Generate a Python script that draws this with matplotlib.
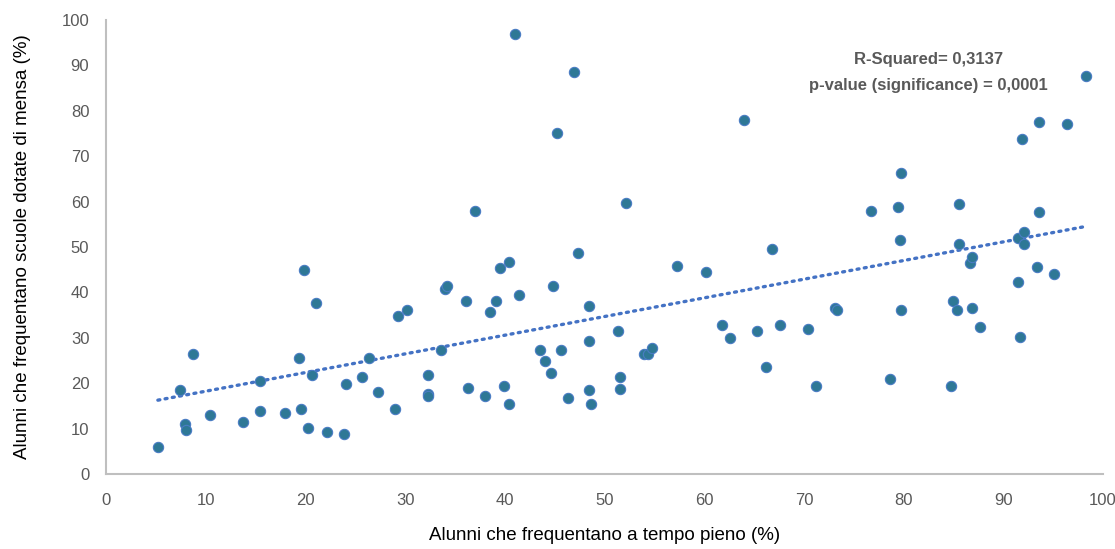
import matplotlib
matplotlib.use("Agg")
import matplotlib.pyplot as plt
import numpy as np

plt.rcParams['font.family'] = ['Liberation Sans', 'DejaVu Sans']

# % alunni a tempo pieno
tempo_pieno = [5.2, 7.4, 7.9, 8.0, 8.7, 10.4, 13.7, 15.4, 15.4, 18.0,
               19.4, 19.9, 19.6, 20.3, 20.7, 21.1, 22.2, 23.9, 24.1, 25.7,
               26.4, 27.3, 29.0, 29.3, 30.2, 32.3, 32.3, 32.3, 33.6, 34.0,
               34.2, 36.1, 36.3, 37.0, 38.0, 38.5, 39.1, 39.5, 39.9, 40.4,
               40.4, 41.0, 41.4, 43.5, 44.0, 44.6, 44.8, 45.2, 45.6, 46.3,
               46.9, 47.3, 48.4, 48.4, 48.4, 48.6, 51.4, 51.6, 51.6, 52.2,
               54.0, 54.4, 54.8, 57.3, 60.2, 61.8, 62.6, 64.0, 65.3, 66.2,
               66.8, 67.6, 70.4, 71.2, 73.1, 73.3, 76.7, 78.6, 79.4, 79.6,
               79.7, 79.7, 84.8, 85.0, 85.4, 85.6, 85.6, 86.7, 86.9, 86.9,
               87.7, 91.5, 91.5, 91.7, 91.9, 92.1, 92.1, 93.4, 93.6, 93.6,
               95.1, 96.4, 98.3]
# % alunni in scuole dotate di mensa
mensa = [6.0, 18.5, 11.1, 9.7, 26.4, 13.0, 11.5, 20.4, 13.9, 13.4,
         25.5, 45.0, 14.3, 10.2, 21.7, 37.6, 9.3, 8.8, 19.9, 21.4,
         25.5, 18.1, 14.3, 34.8, 36.1, 21.7, 17.6, 17.1, 27.4, 40.8,
         41.3, 38.0, 19.0, 58.0, 17.2, 35.7, 38.0, 45.4, 19.4, 46.8,
         15.4, 97.0, 39.4, 27.4, 25.0, 22.2, 41.3, 75.1, 27.4, 16.7,
         88.6, 48.7, 37.1, 29.2, 18.5, 15.4, 31.5, 21.4, 18.7, 59.8,
         26.4, 26.4, 27.8, 45.9, 44.5, 32.8, 30.0, 78.0, 31.5, 23.6,
         49.6, 32.8, 31.9, 19.4, 36.6, 36.1, 58.0, 20.9, 58.9, 51.5,
         66.4, 36.1, 19.4, 38.0, 36.1, 59.4, 50.6, 46.4, 47.9, 36.6,
         32.4, 52.0, 42.2, 30.1, 73.8, 53.4, 50.6, 45.5, 57.6, 77.5,
         44.1, 77.0, 87.7]

x_ticks = list(range(0, 101, 10))
y_ticks = list(range(0, 101, 10))

x = np.array(tempo_pieno)
y = np.array(mensa)

fig = plt.figure(figsize=(11.15, 5.49), dpi=100)
ax = fig.add_axes([0.0951, 0.1366, 0.8941, 0.827])

ax.scatter(x, y, s=55, color='#2e7896', edgecolors='#4a7cc4', linewidths=0.8, zorder=3)

# linear trendline
slope, intercept = np.polyfit(x, y, 1)
xs = np.array([x.min(), x.max()])
ax.plot(xs, slope * xs + intercept, color='#4472c4', linewidth=2.4,
        linestyle=(0, (0.6, 1.6)), dash_capstyle='round', zorder=2)

ax.text(82.5, 91.2, "R-Squared= 0,3137", ha='center', va='center',
        fontsize=12, fontweight='bold', color='#595959')
ax.text(82.5, 85.5, "p-value (significance) = 0,0001", ha='center', va='center',
        fontsize=12, fontweight='bold', color='#595959')

ax.set_xlim(0, 100)
ax.set_ylim(0, 100)
ax.set_xticks(x_ticks)
ax.set_yticks(y_ticks)
ax.tick_params(length=0, labelsize=12, colors='#595959')
ax.tick_params(axis='y', pad=12)
ax.tick_params(axis='x', pad=14)
for s in ['top', 'right']:
    ax.spines[s].set_visible(False)
for s in ['left', 'bottom']:
    ax.spines[s].set_color('#bfbfbf')
    ax.spines[s].set_linewidth(1.5)

ax.set_xlabel("Alunni che frequentano a tempo pieno (%)", fontsize=13.5, color='#000000', labelpad=13)
ax.set_ylabel("Alunni che frequentano scuole dotate di mensa (%)", fontsize=13.5, color='#000000', labelpad=22)

fig.savefig("out.png", dpi=100)
